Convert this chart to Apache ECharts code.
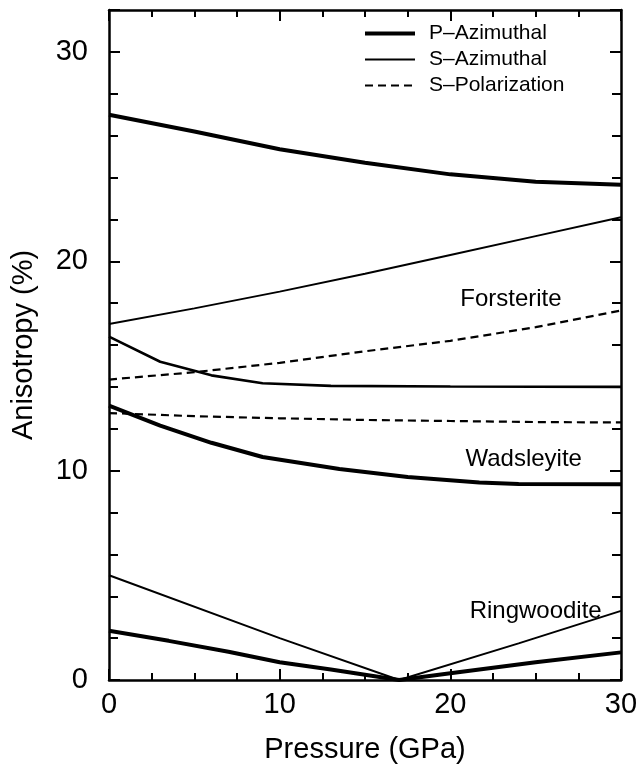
<!DOCTYPE html>
<html>
<head>
<meta charset="utf-8">
<script src="https://cdn.jsdelivr.net/npm/echarts@6/dist/echarts.min.js"></script>
<style>
html,body{margin:0;padding:0;background:#fff;}
#chart{width:642px;height:769px;}
</style>
</head>
<body>
<div id="chart"></div>
<script>
// ---- Data (pressure in GPa, anisotropy in %) ----
const forsteritePressure = [0, 5, 10, 15, 20, 25, 30];
const forsteriteP = [27.0, 26.2, 25.35, 24.7, 24.15, 23.8, 23.65];
const forsteriteS = [17.0, 17.75, 18.55, 19.4, 20.3, 21.2, 22.1];
const forsteritePol = [14.35, 14.7, 15.15, 15.7, 16.2, 16.85, 17.65];

const wadsleyitePPressure = [0, 3, 6, 9, 13.5, 17.5, 21.7, 24, 30];
const wadsleyiteP = [13.1, 12.15, 11.33, 10.65, 10.08, 9.7, 9.43, 9.36, 9.35];
const wadsleyiteSPressure = [0, 3, 6, 9, 13, 20, 30];
const wadsleyiteS = [16.4, 15.2, 14.55, 14.17, 14.05, 14.02, 14.0];
const wadsleyitePolPressure = [0, 5, 10, 15, 20, 25, 30];
const wadsleyitePol = [12.75, 12.6, 12.5, 12.42, 12.37, 12.32, 12.3];

const ringwooditePPressure = [0, 3.5, 7, 10, 13, 15, 17, 20, 25, 30];
const ringwooditeP = [2.35, 1.87, 1.35, 0.85, 0.5, 0.25, 0, 0.32, 0.85, 1.32];
const ringwooditeSPressure = [0, 10, 17, 24, 30];
const ringwooditeS = [5.0, 2.0, 0, 1.75, 3.3];

const legendNames = ['P\u2013Azimuthal', 'S\u2013Azimuthal', 'S\u2013Polarization'];
const mineralLabels = [
  {text: 'Forsterite', x: 23.55, y: 18.17},
  {text: 'Wadsleyite', x: 24.3, y: 10.53},
  {text: 'Ringwoodite', x: 25.0, y: 3.29}
];

const FONT = '"Liberation Sans", Arial, Helvetica, sans-serif';

function pairs(xs, ys) { return xs.map((x, i) => [x, ys[i]]); }

const styleP = {color: '#000', width: 4, type: 'solid'};
const styleS = {color: '#000', width: 2, type: 'solid'};
const styleSw = {color: '#000', width: 2.6, type: 'solid'};
const stylePol = {color: '#000', width: 2.2, type: [8, 5]};

function mk(name, data, ls) {
  return {
    name: name, type: 'line', data: data, symbol: 'none', smooth: false,
    xAxisIndex: 0, yAxisIndex: 0,
    lineStyle: ls, itemStyle: {color: '#000'}, animation: false, z: 3
  };
}

const series = [
  mk(legendNames[0], pairs(forsteritePressure, forsteriteP), styleP),
  mk(legendNames[1], pairs(forsteritePressure, forsteriteS), styleS),
  mk(legendNames[2], pairs(forsteritePressure, forsteritePol), stylePol),
  mk(legendNames[0], pairs(wadsleyitePPressure, wadsleyiteP), styleP),
  mk(legendNames[1], pairs(wadsleyiteSPressure, wadsleyiteS), styleSw),
  mk(legendNames[2], pairs(wadsleyitePolPressure, wadsleyitePol), stylePol),
  mk(legendNames[0], pairs(ringwooditePPressure, ringwooditeP), styleP),
  mk(legendNames[1], pairs(ringwooditeSPressure, ringwooditeS), styleS)
];

const axisLineStyle = {color: '#000', width: 2.5};
const tickStyle = {color: '#000', width: 2};

function xAx(pos, withLabels) {
  const a = {
    type: 'value', min: 0, max: 30, interval: 10, position: pos,
    axisLine: {show: true, onZero: false, lineStyle: axisLineStyle},
    axisTick: {show: true, inside: true, length: 11, lineStyle: tickStyle},
    minorTick: {show: true, splitNumber: 4, length: 7, lineStyle: tickStyle},
    axisLabel: {show: withLabels, fontFamily: FONT, fontSize: 29, color: '#000', margin: 10},
    splitLine: {show: false}, minorSplitLine: {show: false}
  };
  if (withLabels) {
    a.name = 'Pressure (GPa)';
    a.nameLocation = 'middle';
    a.nameGap = 55;
    a.nameTextStyle = {fontFamily: FONT, fontSize: 29, color: '#000'};
  }
  return a;
}
function yAx(pos, withLabels) {
  const a = {
    type: 'value', min: 0, max: 32, interval: 10, position: pos,
    axisLine: {show: true, onZero: false, lineStyle: axisLineStyle},
    axisTick: {show: true, inside: true, length: 11, lineStyle: tickStyle},
    minorTick: {show: true, splitNumber: 5, length: 9, lineStyle: tickStyle},
    axisLabel: {show: withLabels, fontFamily: FONT, fontSize: 29, color: '#000', margin: 21, showMaxLabel: false},
    splitLine: {show: false}, minorSplitLine: {show: false}
  };
  if (withLabels) {
    a.name = 'Anisotropy (%)';
    a.nameLocation = 'middle';
    a.nameGap = 71;
    a.nameTextStyle = {fontFamily: FONT, fontSize: 29, color: '#000'};
  }
  return a;
}

const chart = echarts.init(document.getElementById('chart'), null, {renderer: 'canvas'});
const option = {
  backgroundColor: '#fff',
  animation: false,
  grid: {left: 109, right: 21, top: 10, bottom: 88, containLabel: false},
  legend: {
    data: [
      {name: legendNames[0], lineStyle: {width: 4, color: '#000', type: 'solid'}},
      {name: legendNames[1], lineStyle: {width: 2, color: '#000', type: 'solid'}},
      {name: legendNames[2], lineStyle: {width: 2.2, color: '#000', type: [8, 5]}}
    ],
    orient: 'vertical',
    left: 363, top: 23, padding: 0,
    itemWidth: 50, itemHeight: 14, itemGap: 5,
    itemStyle: {opacity: 0, color: 'transparent', borderWidth: 0},
    textStyle: {fontFamily: FONT, fontSize: 21, color: '#000', padding: [0, 0, 0, 9]},
    selectedMode: false
  },
  xAxis: [xAx('bottom', true), xAx('top', false)],
  yAxis: [yAx('left', true), yAx('right', false)],
  series: series
};
chart.setOption(option);

// mineral name annotations, placed through the chart's own coordinate system
const graphics = mineralLabels.map(m => {
  const p = chart.convertToPixel({xAxisIndex: 0, yAxisIndex: 0}, [m.x, m.y]);
  return {
    type: 'text', x: p[0], y: p[1], z: 10,
    style: {text: m.text, fontFamily: FONT, fontSize: 24, fill: '#000',
            align: 'center', verticalAlign: 'middle'}
  };
});
chart.setOption({graphic: graphics});
</script>
</body>
</html>
